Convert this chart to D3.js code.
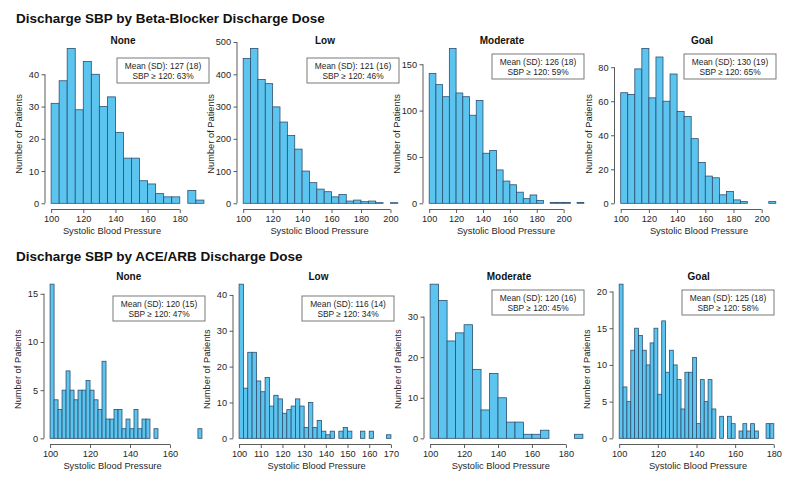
<!DOCTYPE html>
<html><head><meta charset="utf-8">
<script src="https://cdn.jsdelivr.net/npm/d3@7"></script>
<style>body{margin:0;background:#fff}</style>
</head><body>
<svg id="c" width="800" height="481"></svg>
<script>
// ---- data ----
const groups = ["None", "Low", "Moderate", "Goal"];
const rowTitles = ["Discharge SBP by Beta-Blocker Discharge Dose", "Discharge SBP by ACE/ARB Discharge Dose"];
const binStart = 100;
const bbBinWidth = [5, 5, 5, 5];
const aceBinWidth = [2, 2, 5, 2];

const bbNone = [31,38,48,29,44,40,30,33,22,14,14,7,6,3,2,2,0,4,1];
const bbLow = [449,480,384,371,299,252,210,168,100,64,44,36,20,27,7,10,5,7,2,0,2];
const bbModerate = [140,128,115,167,119,115,95,111,54,57,36,24,20,12,5,9,3,0,1,1,1,0,1];
const bbGoal = [65,64,79,91,62,86,60,76,54,51,38,24,16,15,5,7,2,1,0,0,0,1];

const aceNone = [16,4,3,5,7,5,4,5,5,6,5,4,3,8,2,2,3,3,1,2,1,3,1,2,2,0,1,0,0,0,0,0,0,0,0,0,0,1];
const aceLow = [43,14,24,24,16,13,17,9,12,11,7,8,9,11,9,3,10,3,5,2,1,2,0,2,3,2,0,0,2,0,2,0,0,0,1];
const aceModerate = [38,34,24,26,28,17,7,16,10,4,4,1,1,2,0,0,0,1];
const aceGoal = [21,7,5,12,15,14,12,10,13,15,6,16,9,12,10,8,4,9,9,11,2,8,5,8,4,0,3,0,3,2,0,1,2,1,2,1,0,0,2,2];

const bbMean = [127, 121, 126, 130];
const bbSD = [18, 16, 18, 19];
const bbPct = [63, 46, 59, 65];
const aceMean = [120, 116, 120, 125];
const aceSD = [15, 14, 16, 18];
const acePct = [47, 34, 45, 58];

const bbXTicks = [[100,120,140,160,180],[100,120,140,160,180,200],[100,120,140,160,180,200],[100,120,140,160,180,200]];
const bbYTicks = [[0,10,20,30,40],[0,100,200,300,400,500],[0,50,100,150],[0,20,40,60,80]];
const aceXTicks = [[100,120,140,160],[100,110,120,130,140,150,160,170],[100,120,140,160,180],[100,120,140,160,180]];
const aceYTicks = [[0,5,10,15],[0,10,20,30,40],[0,10,20,30],[0,5,10,15,20]];

// ---- layout ----
const rows = [
  {title: rowTitles[0], titleY: 23, y0: 42.3, y1: 209.5,
   counts: [bbNone, bbLow, bbModerate, bbGoal], bw: bbBinWidth, xt: bbXTicks, yt: bbYTicks,
   mean: bbMean, sd: bbSD, pct: bbPct,
   xr: [[45,210],[237,404],[423,590],[614.5,782]],
   box: [[209,58],[399,58],[584,54],[776,54]],
   titleX: [123,325,502,702], xlabX: [112,319.5,506,699]},
  {title: rowTitles[1], titleY: 260.5, y0: 278, y1: 444.5,
   counts: [aceNone, aceLow, aceModerate, aceGoal], bw: aceBinWidth, xt: aceXTicks, yt: aceYTicks,
   mean: aceMean, sd: aceSD, pct: acePct,
   xr: [[44,208],[233,397],[424,589],[613,780]],
   box: [[205,296],[394,296],[584,290],[774,290]],
   titleX: [128.7,318.5,509,698.7], xlabX: [112.5,316.7,500.8,698]}
];

const svg = d3.select("#c");
const FONT = "'Liberation Sans', Arial, Helvetica, sans-serif";
const txt = "#262626";
const axc = "#4a4a4a";

rows.forEach(r => {
  svg.append("text").attr("x", 16).attr("y", r.titleY)
    .attr("font-family", FONT).attr("font-weight", "bold").attr("font-size", 13.5)
    .attr("fill", "#111").text(r.title);

  groups.forEach((g, i) => {
    const counts = r.counts[i];
    const w = r.bw[i];
    const xmin = binStart, xmax = binStart + counts.length * w;
    const pad = 0.04 * (xmax - xmin);
    const x = d3.scaleLinear().domain([xmin - pad, xmax + pad]).range(r.xr[i]);
    const maxc = d3.max(counts);
    const y = d3.scaleLinear().domain([-0.04 * maxc, 1.04 * maxc]).range([r.y1, r.y0]);
    const G = svg.append("g");

    // bars
    G.selectAll("rect.bar").data(counts).join("rect").attr("class", "bar")
      .attr("x", (d, k) => x(binStart + k * w))
      .attr("width", (d, k) => x(binStart + (k + 1) * w) - x(binStart + k * w))
      .attr("y", d => y(d))
      .attr("height", d => y(0) - y(d))
      .attr("fill", "#5cc5ef")
      .attr("stroke", "#2f4f6f")
      .attr("stroke-width", 0.8);

    // x axis
    const xt = r.xt[i];
    const xa = G.append("g").attr("transform", `translate(0,${r.y1})`)
      .call(d3.axisBottom(x).tickValues(xt).tickSize(3.5).tickPadding(2.5).tickFormat(d3.format("d")));
    xa.select(".domain").remove();
    xa.append("line").attr("x1", x(xt[0])).attr("x2", x(xt[xt.length - 1]))
      .attr("stroke", axc).attr("stroke-width", 0.9);
    xa.selectAll(".tick line").attr("stroke", axc).attr("stroke-width", 0.9);
    xa.selectAll(".tick text").attr("font-family", FONT).attr("font-size", 9.2).attr("fill", txt);

    // y axis
    const yt = r.yt[i];
    const ya = G.append("g").attr("transform", `translate(${r.xr[i][0]},0)`)
      .call(d3.axisLeft(y).tickValues(yt).tickSize(3.5).tickPadding(2.5).tickFormat(d3.format("d")));
    ya.select(".domain").remove();
    ya.append("line").attr("y1", y(yt[0])).attr("y2", y(yt[yt.length - 1]))
      .attr("stroke", axc).attr("stroke-width", 0.9);
    ya.selectAll(".tick line").attr("stroke", axc).attr("stroke-width", 0.9);
    ya.selectAll(".tick text").attr("font-family", FONT).attr("font-size", 9.2).attr("fill", txt);

    // labels
    G.append("text").attr("x", r.titleX[i]).attr("y", r.y0 + 1.5)
      .attr("text-anchor", "middle").attr("font-family", FONT).attr("font-weight", "bold")
      .attr("font-size", 10).attr("fill", "#111").text(g);
    G.append("text").attr("x", r.xlabX[i]).attr("y", r.y1 + 24)
      .attr("text-anchor", "middle").attr("font-family", FONT).attr("font-size", 9.3)
      .attr("fill", txt).text("Systolic Blood Pressure");
    const ylx = r.xr[i][0] - 23, yly = (r.y0 + r.y1) / 2 + 8;
    G.append("text").attr("transform", `translate(${ylx},${yly}) rotate(-90)`)
      .attr("text-anchor", "middle").attr("font-family", FONT).attr("font-size", 9.3)
      .attr("fill", txt).text("Number of Patients");

    // stats box
    const bw = 92, bh = 25;
    const bx = r.box[i][0] - bw, by = r.box[i][1];
    G.append("rect").attr("x", bx).attr("y", by).attr("width", bw).attr("height", bh)
      .attr("fill", "#fff").attr("stroke", "#6a6a6a").attr("stroke-width", 0.9);
    G.append("text").attr("x", bx + bw / 2).attr("y", by + 10.5).attr("text-anchor", "middle")
      .attr("font-family", FONT).attr("font-size", 8.4).attr("fill", txt)
      .text(`Mean (SD): ${r.mean[i]} (${r.sd[i]})`);
    G.append("text").attr("x", bx + bw / 2).attr("y", by + 21).attr("text-anchor", "middle")
      .attr("font-family", FONT).attr("font-size", 8.4).attr("fill", txt)
      .text(`SBP \u2265 120: ${r.pct[i]}%`);
  });
});
</script>
</body></html>
